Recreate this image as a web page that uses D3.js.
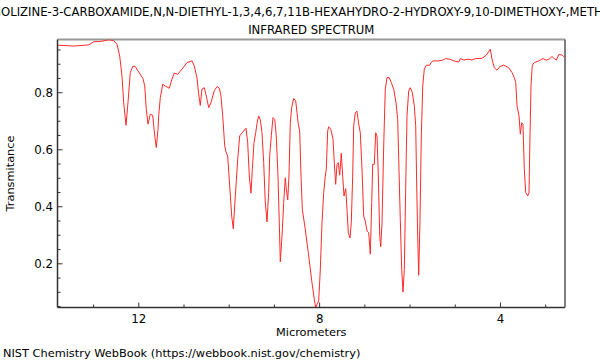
<!DOCTYPE html>
<html><head><meta charset="utf-8">
<script src="https://cdn.jsdelivr.net/npm/d3@7"></script>
<style>body{margin:0;background:#fff} text{font-family:"DejaVu Sans",sans-serif;fill:#000}</style>
</head><body><svg id="c" width="600" height="360"></svg>
<script>
const wavelength = [13.79,13.429,13.097,12.987,12.841,12.655,12.544,12.471,12.411,12.361,12.323,12.272,12.228,12.177,12.117,12.066,11.991,11.896,11.858,11.823,11.785,11.735,11.681,11.637,11.602,11.564,
11.549,11.513,11.460,11.403,11.314,11.255,11.204,11.129,11.033,10.923,10.812,10.761,10.702,10.664,10.629,10.591,10.540,10.496,10.443,10.392,10.319,10.259,10.208,10.171,10.127,10.089,10.060,10.023,9.978,9.934,9.899,9.854,9.801,9.757,9.684,9.618,9.580,9.545,9.507,9.478,9.441,9.403,9.374,9.337,
9.301,9.264,9.226,9.191,9.153,9.116,9.094,9.058,9.021,8.983,8.948,8.910,8.881,8.859,8.821,8.784,8.749,8.726,8.695,8.667,8.638,8.607,8.563,8.518,8.490,8.461,8.430,8.401,8.372,8.306,8.231,8.158,8.107,8.076,8.047,8.010,7.974,7.937,7.899,7.864,7.842,7.811,7.789,7.738,7.693,7.665,7.634,7.605,7.576,7.545,7.510,7.479,7.450,7.412,7.384,7.355,7.317,7.289,7.258,7.236,7.200,7.163,
7.125,7.090,7.052,7.015,6.979,6.941,6.904,6.868,6.837,6.815,6.780,6.749,6.720,6.691,6.660,6.638,6.609,6.572,6.537,6.499,6.448,6.404,6.351,6.300,6.262,6.234,6.205,6.174,6.145,6.116,6.085,6.057,6.019,5.984,5.939,5.895,5.864,5.842,5.820,5.798,5.769,5.740,5.709,5.674,5.630,5.555,5.526,5.481,5.356,5.260,5.209,5.112,5.024,4.913,
4.878,4.802,4.692,4.619,4.546,4.398,4.303,4.214,4.176,4.126,4.066,4.006,3.918,3.807,3.734,3.683,3.652,3.623,3.579,3.550,3.519,3.491,3.462,3.431,3.387,3.358,3.336,3.314,3.285,3.241,3.144,3.048,2.976,2.900,2.849,2.799,2.754,2.701,2.628,2.591,2.546];
const transmittance = [0.965,0.962,0.966,0.977,0.978,0.984,0.981,0.968,0.927,0.857,0.764,0.684,0.764,0.869,0.892,0.890,0.871,0.848,0.822,0.740,0.688,0.723,0.719,0.647,0.606,0.670,
0.717,0.781,0.828,0.822,0.814,0.846,0.867,0.863,0.881,0.904,0.910,0.892,0.851,0.793,0.754,0.811,0.816,0.787,0.746,0.764,0.805,0.820,0.814,0.787,0.705,0.612,0.591,0.576,0.471,0.366,0.321,0.436,0.565,0.647,0.661,0.674,0.623,0.506,0.446,0.530,0.623,0.658,0.691,0.717,
0.703,0.658,0.553,0.413,0.345,0.448,0.576,0.647,0.711,0.705,0.647,0.506,0.342,0.205,0.296,0.413,0.500,0.460,0.422,0.506,0.693,0.746,0.778,0.769,0.728,0.688,0.664,0.506,0.389,0.319,0.226,0.132,0.074,0.044,0.056,0.068,0.179,0.342,0.448,0.506,0.530,0.664,0.679,0.668,0.635,0.553,0.477,0.547,0.553,0.509,0.586,0.506,0.436,0.462,0.389,0.307,0.289,0.342,0.506,0.682,0.728,0.734,
0.689,0.658,0.530,0.366,0.348,0.313,0.307,0.232,0.413,0.547,0.547,0.658,0.647,0.506,0.296,0.258,0.342,0.612,0.811,0.851,0.851,0.834,0.811,0.764,0.705,0.530,0.354,0.179,0.099,0.179,0.471,0.717,0.805,0.816,0.799,0.752,0.682,0.471,0.296,0.158,0.354,0.647,0.822,0.881,0.895,0.895,0.904,0.910,0.910,0.913,0.918,0.916,0.910,0.906,
0.918,0.913,0.916,0.913,0.918,0.919,0.930,0.951,0.916,0.886,0.877,0.890,0.895,0.886,0.869,0.851,0.834,0.752,0.717,0.653,0.693,0.688,0.530,0.448,0.436,0.448,0.647,0.822,0.895,0.904,0.910,0.918,0.912,0.918,0.925,0.918,0.913,0.932,0.931,0.925,0.921];
const xMajorTicks = [12, 8, 4];
const xMinorTicks = [13, 11, 10, 9, 7, 6, 5, 3];
const yMajorTicks = [0.2, 0.4, 0.6, 0.8];
const yMinorTicks = [0.05,0.1,0.15,0.25,0.3,0.35,0.45,0.5,0.55,0.65,0.7,0.75,0.85,0.9,0.95];
const titleLine1 = "2H-BENZO[A]QUINOLIZINE-3-CARBOXAMIDE,N,N-DIETHYL-1,3,4,6,7,11B-HEXAHYDRO-2-HYDROXY-9,10-DIMETHOXY-,METHYL ESTER";
const titleHidden = "2H-BENZO[A]QUIN";
const titleLine2 = "INFRARED SPECTRUM";
const xLabel = "Micrometers";
const yLabel = "Transmitance";
const credit = "NIST Chemistry WebBook (https://webbook.nist.gov/chemistry)";

const FS = "11.35px";
const FT = "11.65px";
const svg = d3.select("#c");
const L = 57.5, R = 565, T = 39.5, B = 307.5;
const x = d3.scaleLinear().domain([13.787, 2.562]).range([L, R]);
const y = d3.scaleLinear().domain([0.045, 0.985]).range([B, T]);

svg.append("defs").append("clipPath").attr("id","clip")
  .append("rect").attr("x",L).attr("y",T).attr("width",R-L).attr("height",B-T);

// frame
svg.append("line").attr("x1",L).attr("x2",R).attr("y1",T).attr("y2",T).attr("stroke","#999").attr("stroke-width",2);
svg.append("line").attr("x1",R).attr("x2",R).attr("y1",T).attr("y2",B).attr("stroke","#555").attr("stroke-width",1.5);

const data = wavelength.map((w,i)=>[w, transmittance[i]]);
svg.append("path").datum(data)
  .attr("clip-path","url(#clip)")
  .attr("fill","none").attr("stroke","#ff2a2a").attr("stroke-width",1)
  .attr("d", d3.line().x(d=>x(d[0])).y(d=>y(d[1])));

// x axis
const gx = svg.append("g").attr("transform",`translate(0,${B})`);
gx.call(d3.axisBottom(x).tickValues(xMajorTicks).tickSize(-5).tickPadding(7).tickFormat(d3.format("d")));
const gxm = svg.append("g").attr("transform",`translate(0,${B})`);
gxm.call(d3.axisBottom(x).tickValues(xMinorTicks).tickSize(-3).tickFormat(""));
gxm.select(".domain").remove();
// y axis
const gy = svg.append("g").attr("transform",`translate(${L},0)`);
gy.call(d3.axisLeft(y).tickValues(yMajorTicks).tickSize(-5).tickPadding(4.5).tickFormat(d3.format(".1f")));
const gym = svg.append("g").attr("transform",`translate(${L},0)`);
gym.call(d3.axisLeft(y).tickValues(yMinorTicks).tickSize(-3).tickFormat(""));
gym.select(".domain").remove();
svg.selectAll(".domain").attr("stroke","#333").attr("stroke-width",1.5);
svg.selectAll(".tick line").attr("stroke","#333");
svg.selectAll(".tick text").style("font-family","'DejaVu Sans',sans-serif").style("font-size","11.8px").attr("fill","#000");
gx.select(".domain").attr("d",`M${L},0H${R}`);
gy.select(".domain").attr("d",`M0,${T}V${B}`);

// titles
const t1 = svg.append("text").attr("y",16).style("font-size",FT).text(titleLine1);
const hidden = t1.node().getSubStringLength(0, titleHidden.length);
t1.attr("x", 1 - hidden);
svg.append("text").attr("x",(L+R)/2).attr("y",34).attr("text-anchor","middle").style("font-size",FT).text(titleLine2);
svg.append("text").attr("x",(L+R)/2).attr("y",336).attr("text-anchor","middle").style("font-size",FS).text(xLabel);
svg.append("text").attr("transform",`translate(14,${(T+B)/2}) rotate(-90)`).attr("text-anchor","middle").style("font-size",FS).text(yLabel);
svg.append("text").attr("x",3).attr("y",357).style("font-size",FS).text(credit);
</script></body></html>
